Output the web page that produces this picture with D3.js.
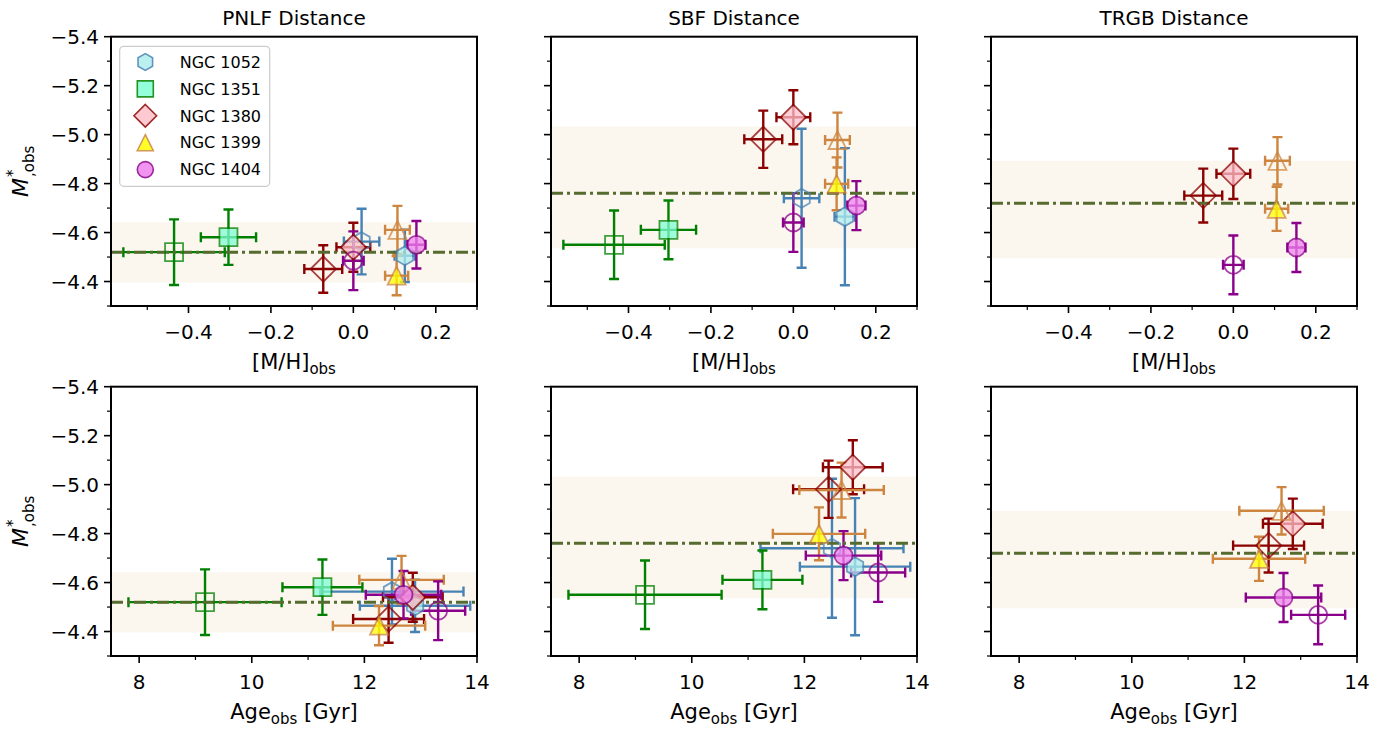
<!DOCTYPE html>
<html>
<head>
<meta charset="utf-8">
<script src="https://cdn.jsdelivr.net/npm/d3@7"></script>
<style>
  body { margin: 0; background: #fff; }
  svg { font-family: "DejaVu Sans", sans-serif; }
</style>
</head>
<body>
<div id="chart"></div>
<script>
// --- data ---
const galaxies = ['NGC 1052', 'NGC 1351', 'NGC 1380', 'NGC 1399', 'NGC 1404'];
const edgeColors = ['#4682b4', '#008000', '#8b0000', '#cd853f', '#8b008b'];
const fillColors = ['#afeeee', '#7fffd4', '#ffc0cb', '#ffff00', '#ee82ee'];
const shapes = ['hexagon', 'square', 'diamond', 'triangle', 'circle'];

const methods = ['PNLF Distance', 'SBF Distance', 'TRGB Distance'];
const meanMag = [-4.52, -4.761, -4.72];
const bandBright = [-4.642, -5.033, -4.893];
const bandFaint = [-4.396, -4.536, -4.495];

// [M/H] and age, open / filled symbols
const mhOpen = [0.02, -0.435, -0.073, 0.107, 0.0];
const mhOpenErr = [0.043, 0.123, 0.046, 0.03, 0.025];
const mhFilled = [0.125, -0.303, 0.0, 0.105, 0.153];
const mhFilledErr = [0.025, 0.067, 0.041, 0.028, 0.022];
const ageOpen = [12.49, 9.17, 12.43, 12.66, 13.31];
const ageOpenErr = [1.27, 1.36, 0.63, 0.75, 0.48];
const ageFilled = [12.9, 11.255, 12.86, 12.26, 12.695];
const ageFilledErr = [0.98, 0.71, 0.53, 0.82, 0.67];

// M*,obs per distance method
const pnlfOpen = [-4.563, -4.52, -4.451, -4.611, -4.485];
const pnlfOpenErr = [0.134, 0.134, 0.097, 0.098, 0.12];
const pnlfFilled = [-4.505, -4.581, -4.54, -4.424, -4.55];
const pnlfFilledErr = [0.107, 0.113, 0.1, 0.08, 0.097];
const sbfOpen = [-4.74, -4.55, -4.981, -4.978, -4.641];
const sbfOpenErr = [0.284, 0.14, 0.117, 0.112, 0.12];
const sbfFilled = [-4.665, -4.611, -5.071, -4.799, -4.71];
const sbfFilledErr = [0.28, 0.12, 0.11, 0.108, 0.1];
const trgbOpen = [null, null, -4.751, -4.893, -4.468];
const trgbOpenErr = [null, null, 0.11, 0.097, 0.12];
const trgbFilled = [null, null, -4.84, -4.697, -4.539];
const trgbFilledErr = [null, null, 0.103, 0.09, 0.1];

const yOpen = [pnlfOpen, sbfOpen, trgbOpen];
const yOpenErr = [pnlfOpenErr, sbfOpenErr, trgbOpenErr];
const yFilled = [pnlfFilled, sbfFilled, trgbFilled];
const yFilledErr = [pnlfFilledErr, sbfFilledErr, trgbFilledErr];

const yMajor = [-5.4, -5.2, -5.0, -4.8, -4.6, -4.4];
const yMinor = [-5.3, -5.1, -4.9, -4.7, -4.5, -4.3];
const mhMajor = [-0.4, -0.2, 0.0, 0.2];
const mhMinor = [-0.5, -0.3, -0.1, 0.1, 0.3];
const ageMajor = [8, 10, 12, 14];
const ageMinor = [9, 11, 13];

// --- layout ---
const W = 1397, H = 731;
const panelLeft = [111, 551, 991];
const panelW = 366;
const rowTop = [36.7, 386.7];
const panelH = 269.3;

const svg = d3.select('#chart').append('svg').attr('width', W).attr('height', H);

function markerPath(shape, s) {
    // s = marker size in px (matplotlib markersize)
    const h = s / 2;
    if (shape === 'square') return `M${-h},${-h}H${h}V${h}H${-h}Z`;
    if (shape === 'diamond') { const d = h * Math.SQRT2; return `M0,${-d}L${d},0L0,${d}L${-d},0Z`; }
    if (shape === 'triangle') return `M0,${-h}L${h},${h}L${-h},${h}Z`;
    if (shape === 'circle') return `M${h},0A${h},${h} 0 1,1 ${-h},0A${h},${h} 0 1,1 ${h},0Z`;
    if (shape === 'hexagon') {
        const r = h * 1.05;
        const pts = d3.range(6).map(i => {
            const a = -Math.PI / 2 + i * Math.PI / 3;
            return [r * Math.cos(a), r * Math.sin(a)];
        });
        return 'M' + pts.map(p => p.join(',')).join('L') + 'Z';
    }
}

function drawPanel(row, col) {
    const x0 = panelLeft[col], y0 = rowTop[row];
    const g = svg.append('g');
    const y = d3.scaleLinear().domain([-5.4, -4.3]).range([y0, y0 + panelH]);
    const x = row === 0
        ? d3.scaleLinear().domain([-0.588, 0.3]).range([x0, x0 + panelW])
        : d3.scaleLinear().domain([7.5, 14]).range([x0, x0 + panelW]);

    // band
    g.append('rect')
        .attr('x', x0).attr('width', panelW)
        .attr('y', y(bandBright[col])).attr('height', y(bandFaint[col]) - y(bandBright[col]))
        .attr('fill', '#fbf6ee');

    const xo = row === 0 ? mhOpen : ageOpen;
    const xoe = row === 0 ? mhOpenErr : ageOpenErr;
    const xf = row === 0 ? mhFilled : ageFilled;
    const xfe = row === 0 ? mhFilledErr : ageFilledErr;

    const pts = [];
    galaxies.forEach((name, i) => {
        if (yOpen[col][i] != null) pts.push({ i, filled: false, x: xo[i], xe: xoe[i], y: yOpen[col][i], ye: yOpenErr[col][i] });
        if (yFilled[col][i] != null) pts.push({ i, filled: true, x: xf[i], xe: xfe[i], y: yFilled[col][i], ye: yFilledErr[col][i] });
    });

    // error bars
    const cap = 5;
    const eb = g.append('g').attr('stroke-width', 2.4).attr('fill', 'none');
    pts.forEach(p => {
        const c = edgeColors[p.i];
        const cx = x(p.x), cy = y(p.y);
        const xa = x(p.x - p.xe), xb = x(p.x + p.xe);
        const ya = y(p.y - p.ye), yb = y(p.y + p.ye);
        const d = `M${xa},${cy}H${xb}M${cx},${ya}V${yb}` +
            `M${xa},${cy - cap}V${cy + cap}M${xb},${cy - cap}V${cy + cap}` +
            `M${cx - cap},${ya}H${cx + cap}M${cx - cap},${yb}H${cx + cap}`;
        eb.append('path').attr('d', d).attr('stroke', c);
    });

    // mean line
    g.append('line')
        .attr('x1', x0).attr('x2', x0 + panelW)
        .attr('y1', y(meanMag[col])).attr('y2', y(meanMag[col]))
        .attr('stroke', '#556b2f').attr('stroke-width', 3)
        .attr('stroke-dasharray', '12,4,3,4');

    // markers
    pts.forEach(p => {
        g.append('path')
            .attr('transform', `translate(${x(p.x)},${y(p.y)})`)
            .attr('d', markerPath(shapes[p.i], 18))
            .attr('fill', p.filled ? fillColors[p.i] : 'none')
            .attr('stroke', edgeColors[p.i])
            .attr('stroke-width', 1.8)
            .attr('opacity', 0.75);
    });

    // spines
    g.append('rect')
        .attr('x', x0).attr('y', y0).attr('width', panelW).attr('height', panelH)
        .attr('fill', 'none').attr('stroke', '#000').attr('stroke-width', 2);

    // y ticks
    const yt = g.append('g');
    yMajor.forEach(v => {
        yt.append('line').attr('x1', x0 - 7).attr('x2', x0).attr('y1', y(v)).attr('y2', y(v))
            .attr('stroke', '#000').attr('stroke-width', 1.6);
        if (col === 0) {
            yt.append('text').attr('x', x0 - 12).attr('y', y(v)).attr('dy', '0.36em')
                .attr('text-anchor', 'end').attr('font-size', 20).text(d3.format('.1f')(v));
        }
    });
    yMinor.forEach(v => {
        yt.append('line').attr('x1', x0 - 4).attr('x2', x0).attr('y1', y(v)).attr('y2', y(v))
            .attr('stroke', '#000').attr('stroke-width', 1.2);
    });

    // x ticks
    const yb = y0 + panelH;
    const major = row === 0 ? mhMajor : ageMajor;
    const minor = row === 0 ? mhMinor : ageMinor;
    const fmt = row === 0 ? d3.format('.1f') : d3.format('d');
    major.forEach(v => {
        g.append('line').attr('x1', x(v)).attr('x2', x(v)).attr('y1', yb).attr('y2', yb + 7)
            .attr('stroke', '#000').attr('stroke-width', 1.6);
        g.append('text').attr('x', x(v)).attr('y', yb + 33)
            .attr('text-anchor', 'middle').attr('font-size', 20).text(fmt(v));
    });
    minor.forEach(v => {
        g.append('line').attr('x1', x(v)).attr('x2', x(v)).attr('y1', yb).attr('y2', yb + 4)
            .attr('stroke', '#000').attr('stroke-width', 1.2);
    });

    // x label
    const xl = g.append('text').attr('x', x0 + panelW / 2).attr('y', yb + 63)
        .attr('text-anchor', 'middle').attr('font-size', 21);
    if (row === 0) {
        xl.append('tspan').text('[M/H]');
        xl.append('tspan').attr('font-size', 15).attr('dy', 5).text('obs');
    } else {
        xl.append('tspan').text('Age');
        xl.append('tspan').attr('font-size', 15).attr('dy', 5).text('obs');
        xl.append('tspan').attr('dy', -5).text(' [Gyr]');
    }

    // title
    if (row === 0) {
        svg.append('text').attr('x', x0 + panelW / 2).attr('y', 25)
            .attr('text-anchor', 'middle').attr('font-size', 20).text(methods[col]);
    }

    // y label
    if (col === 0) {
        const lg = svg.append('g').attr('transform', `translate(28,${y0 + panelH / 2}) rotate(-90)`);
        const m = lg.append('text').attr('font-size', 22).attr('font-style', 'italic').text('M');
        const mw = m.node().getComputedTextLength();
        const sup = lg.append('text').attr('x', mw + 1).attr('y', -10).attr('font-size', 15).text('*');
        const sub = lg.append('text').attr('x', mw + 1).attr('y', 6).attr('font-size', 15).text(',obs');
        const total = mw + 1 + Math.max(sub.node().getComputedTextLength(), sup.node().getComputedTextLength());
        lg.selectAll('text').attr('transform', `translate(${-total / 2},0)`);
    }
}

for (let r = 0; r < 2; r++) {
    for (let c = 0; c < 3; c++) drawPanel(r, c);
}

// legend
const leg = svg.append('g');
leg.append('rect')
    .attr('x', 119.7).attr('y', 46.3).attr('width', 150).attr('height', 140)
    .attr('rx', 4).attr('fill', '#fff').attr('fill-opacity', 0.8)
    .attr('stroke', '#cccccc').attr('stroke-width', 1.2);
galaxies.forEach((name, i) => {
    const ly = 62 + i * 26.9;
    leg.append('path')
        .attr('transform', `translate(145.3,${ly})`)
        .attr('d', markerPath(shapes[i], 16))
        .attr('fill', fillColors[i]).attr('stroke', edgeColors[i])
        .attr('stroke-width', 1.6).attr('opacity', 0.85);
    leg.append('text').attr('x', 179.7).attr('y', ly).attr('dy', '0.36em')
        .attr('font-size', 16).text(name);
});
</script>
</body>
</html>
